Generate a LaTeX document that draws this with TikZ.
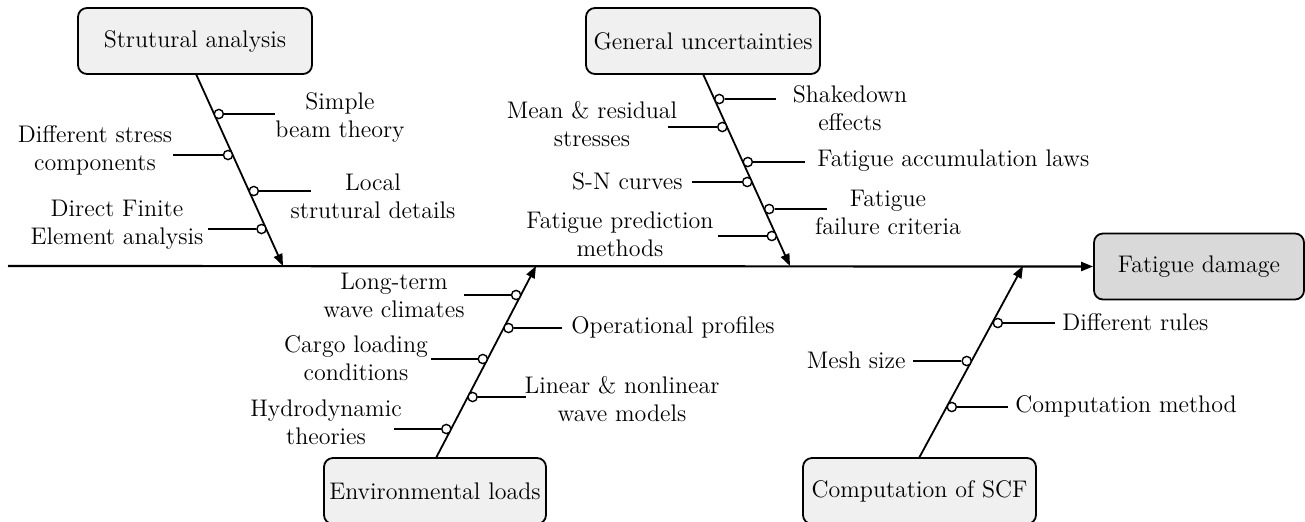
\documentclass[tikz,border=0pt]{standalone}
\usetikzlibrary{arrows.meta}
\begin{document}
\begin{tikzpicture}[x=0.5pt,y=-0.5pt,
  font=\fontsize{12}{14}\selectfont,
  cause/.style={draw=black,line width=0.9pt,rounded corners=4.5pt,fill=black!6,
    minimum width=117pt,minimum height=33pt,inner sep=2pt},
  effect/.style={cause,fill=black!15,minimum width=105pt},
  bone/.style={line width=0.9pt,-{Triangle[length=6pt,width=4.5pt]}},
  twig/.style={line width=0.9pt},
  dot/.style={circle,draw=black,line width=0.7pt,fill=white,inner sep=0pt,minimum size=4.6pt},
  lbl/.style={align=center,inner sep=0pt}]
\useasboundingbox (0,0) rectangle (1305,521);
% main spine
\node[effect] (fd) at (1199,266.5) {Fatigue damage};
\coordinate (start) at (8,266);
\draw[bone,line width=1.1pt] (start) -- (fd.west);
% cause boxes
\node[cause] (sa) at (195,41) {Strutural analysis};
\node[cause] (gu) at (703,41) {General uncertainties};
\node[cause,minimum width=111pt] (el) at (435,491) {Environmental loads};
\node[cause,minimum width=116.5pt] (sc) at (919.5,491) {Computation of SCF};
% bone end points on spine
\coordinate (saE) at (283,266);
\coordinate (guE) at (790,266);
\coordinate (elE) at (536,266);
\coordinate (scE) at (1023,266);
\coordinate (saS) at (196,74);
\coordinate (guS) at (703,74);
\coordinate (elS) at (436,458);
\coordinate (scS) at (919,458);
\draw[bone] (saS) -- (saE);
\draw[bone] (guS) -- (guE);
\draw[bone] (elS) -- (elE);
\draw[bone] (scS) -- (scE);
% ---- Strutural analysis
\node[dot] (a1) at (218.8,114) {};
\node[dot] (a2) at (228,155) {};
\node[dot] (a3) at (253.8,191) {};
\node[dot] (a4) at (261.5,229) {};
\coordinate (a1e) at (275,114);
\coordinate (a2e) at (173,155);
\coordinate (a3e) at (311,191);
\coordinate (a4e) at (208,229);
\draw[twig] (a1) -- (a1e);
\draw[twig] (a2) -- (a2e);
\draw[twig] (a3) -- (a3e);
\draw[twig] (a4) -- (a4e);
\node[lbl] (la1) at (340,117) {Simple\\beam theory};
\node[lbl] (la2) at (95,150) {Different stress\\components};
\node[lbl] (la3) at (373,196) {Local\\strutural details};
\node[lbl] (la4) at (117,225) {Direct Finite\\Element analysis};
% ---- General uncertainties
\node[dot] (g1) at (719.3,99) {};
\node[dot] (g2) at (722.3,127) {};
\node[dot] (g3) at (747.8,162) {};
\node[dot] (g4) at (747.2,182) {};
\node[dot] (g5) at (769.2,209) {};
\node[dot] (g6) at (771.8,236) {};
\coordinate (g1e) at (776,99);
\coordinate (g2e) at (668,127);
\coordinate (g3e) at (805,162);
\coordinate (g4e) at (692,182);
\coordinate (g5e) at (827,209);
\coordinate (g6e) at (718,236);
\draw[twig] (g1) -- (g1e);
\draw[twig] (g2) -- (g2e);
\draw[twig] (g3) -- (g3e);
\draw[twig] (g4) -- (g4e);
\draw[twig] (g5) -- (g5e);
\draw[twig] (g6) -- (g6e);
\node[lbl] (lg1) at (850,108) {Shakedown\\effects};
\node[lbl] (lg2) at (592,124) {Mean \& residual\\stresses};
\node[lbl,anchor=west] (lg3) at (817,161) {Fatigue accumulation laws};
\node[lbl,anchor=east] (lg4) at (683,181) {S-N curves};
\node[lbl] (lg5) at (888,212) {Fatigue\\failure criteria};
\node[lbl] (lg6) at (620,234) {Fatigue prediction\\methods};
% ---- Environmental loads
\node[dot] (e1) at (516.1,295) {};
\node[dot] (e2) at (508.5,328) {};
\node[dot] (e3) at (482.8,359) {};
\node[dot] (e4) at (472.6,397) {};
\node[dot] (e5) at (446.3,429) {};
\coordinate (e1e) at (464,295);
\coordinate (e2e) at (562,328);
\coordinate (e3e) at (431,359);
\coordinate (e4e) at (526,397);
\coordinate (e5e) at (394,429);
\draw[twig] (e1) -- (e1e);
\draw[twig] (e2) -- (e2e);
\draw[twig] (e3) -- (e3e);
\draw[twig] (e4) -- (e4e);
\draw[twig] (e5) -- (e5e);
\node[lbl] (le1) at (394,295) {Long-term\\wave climates};
\node[lbl,anchor=west] (le2) at (571,327) {Operational profiles};
\node[lbl] (le3) at (356,358) {Cargo loading\\conditions};
\node[lbl] (le4) at (622,399) {Linear \& nonlinear\\wave models};
\node[lbl] (le5) at (326,422) {Hydrodynamic\\theories};
% ---- Computation of SCF
\node[dot] (c1) at (997.8,323) {};
\node[dot] (c2) at (966.7,361) {};
\node[dot] (c3) at (951.8,407) {};
\coordinate (c1e) at (1055,323);
\coordinate (c2e) at (913,361);
\coordinate (c3e) at (1008,407);
\draw[twig] (c1) -- (c1e);
\draw[twig] (c2) -- (c2e);
\draw[twig] (c3) -- (c3e);
\node[lbl,anchor=west] (lc1) at (1062,322) {Different rules};
\node[lbl,anchor=east] (lc2) at (906,360) {Mesh size};
\node[lbl,anchor=west] (lc3) at (1015,406) {Computation method};
\end{tikzpicture}
\end{document}
